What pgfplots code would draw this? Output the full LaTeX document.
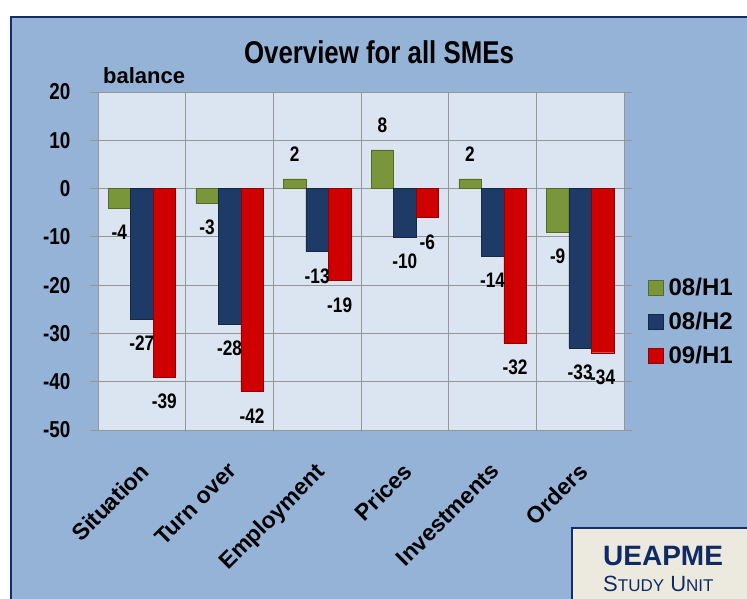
\documentclass[border=0pt]{standalone}
\usepackage{pgfplots}
\pgfplotsset{compat=1.18}
\usepackage{fontspec}
\setmainfont{Liberation Sans}
\newfontfamily\nb[FakeStretch=0.82]{Liberation Sans}
\definecolor{panel}{RGB}{149,179,215}
\definecolor{plotbg}{RGB}{219,229,241}
\definecolor{navy}{RGB}{20,44,110}
\definecolor{gridc}{RGB}{150,150,150}
\definecolor{cream}{RGB}{236,233,222}
\definecolor{ueap}{RGB}{16,42,102}
\definecolor{cgreen}{RGB}{122,150,58}
\definecolor{cblue}{RGB}{30,58,102}
\definecolor{cred}{RGB}{206,0,0}
\begin{document}
\begin{tikzpicture}[x=1pt,y=1pt]
\useasboundingbox (0,0) rectangle (747,-599);
\clip (0,0) rectangle (747,-599);
\fill[white] (0,0) rectangle (747,-599);
\fill[panel] (11,-17) rectangle (760,-610);
\draw[navy,line width=2pt] (11,-620) -- (11,-17) -- (760,-17);
\begin{axis}[
  at={(98pt,-430pt)}, anchor=south west,
  width=526pt, height=338pt, scale only axis,
  xmin=-0.5, xmax=5.5, ymin=-50, ymax=20,
  ytick={-50,-40,...,20},
  xtick={0,...,5},
  xticklabels={Situation,Turn over,Employment,Prices,Investments,Orders},
  minor xtick={0.5,1.5,...,4.5},
  xminorgrids=true, ymajorgrids=true,
  grid style={gridc, line width=1pt},
  axis background/.style={fill=plotbg},
  axis line style={gridc, line width=1pt},
  x tick style={draw=none},
  y tick style={gridc, line width=1pt},
  tick align=outside, major tick length=8pt,
  /pgf/number format/assume math mode=true,
  yticklabel style={font=\nb\bfseries\fontsize{23}{23}\selectfont, xshift=-16pt},
  xticklabel style={font=\bfseries\fontsize{23}{23}\selectfont, rotate=45, anchor=north east, xshift=-15pt, yshift=-11pt},
  ybar=0pt, bar width=22.5pt,
  nodes near coords, nodes near coords align=vertical,
  every node near coord/.append style={text=black, font=\nb\bfseries\fontsize{21}{21}\selectfont, inner ysep=17pt, inner xsep=0pt},
  legend style={at={(1.04,0.32)}, anchor=west, draw=none, fill=none,
    font=\bfseries\fontsize{24}{24}\selectfont, row sep=11pt,
    legend cell align=left, nodes={inner xsep=5pt}},
  legend image code/.code={\fill[#1] (0pt,-7pt) rectangle (15pt,8pt);},
]
\addplot[fill=cgreen, draw=cgreen!70!black] coordinates {(0,-4) (1,-3) (2,2) (3,8) (4,2) (5,-9)};
\addplot[fill=cblue, draw=cblue!70!black] coordinates {(0,-27) (1,-28) (2,-13) (3,-10) (4,-14) (5,-33)};
\addplot[fill=cred, draw=cred!70!black] coordinates {(0,-39) (1,-42) (2,-19) (3,-6) (4,-32) (5,-34)};
\legend{08/H1,08/H2,09/H1}
\end{axis}
\node[anchor=center, font=\nb\bfseries\fontsize{31.5}{31.5}\selectfont] at (379,-52) {Overview for all SMEs};
\node[anchor=base west, inner sep=0pt, font=\bfseries\fontsize{22}{22}\selectfont] at (103,-84) {balance};
\fill[cream] (572,-528) rectangle (760,-610);
\draw[navy,line width=2.5pt] (572,-620) -- (572,-528) -- (760,-528);
\node[anchor=base west, inner sep=0pt, text=ueap, font=\bfseries\fontsize{28}{28}\selectfont] at (603,-565) {UEAPME};
\node[anchor=base west, inner sep=0pt, text=ueap, font=\fontsize{22}{22}\selectfont] at (603,-591) {S{\fontsize{17}{17}\selectfont TUDY} U{\fontsize{17}{17}\selectfont NIT}};
\end{tikzpicture}
\end{document}
